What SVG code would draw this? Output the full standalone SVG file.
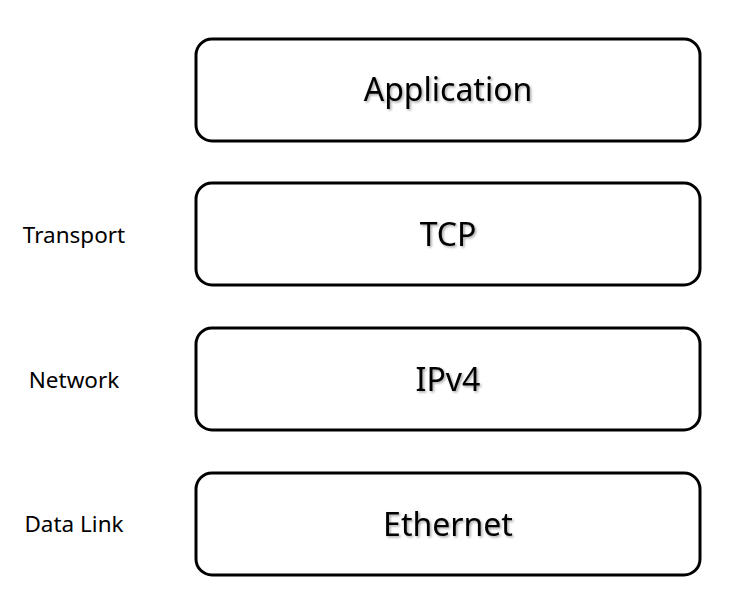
<svg xmlns="http://www.w3.org/2000/svg" width="731" height="613" viewBox="0 0 731 613">
<style>
.box{fill:#fff;stroke:#000;stroke-width:3}
.t{font-family:"Noto Sans","Open Sans",sans-serif;font-size:32px;fill:#000;text-anchor:middle;filter:url(#sh)}
.l{font-family:"Noto Sans","Open Sans",sans-serif;font-size:22.5px;fill:#000;text-anchor:middle}
</style>
<defs>
<filter id="sh" x="-10%" y="-20%" width="130%" height="150%">
<feDropShadow dx="1.5" dy="1.5" stdDeviation="1" flood-color="#000" flood-opacity="0.35"/>
</filter>
</defs>
<rect width="731" height="613" fill="#fff"/>
<g id="application"><rect class="box" x="196" y="39" width="504" height="102" rx="16"/><text class="t" x="448" y="101">Application</text></g>
<g id="tcp"><rect class="box" x="196" y="183" width="504" height="102" rx="16"/><text class="t" x="448" y="246">TCP</text></g>
<g id="ipv4"><rect class="box" x="196" y="328" width="504" height="102" rx="16"/><text class="t" x="448" y="391">IPv4</text></g>
<g id="ethernet"><rect class="box" x="196" y="473" width="504" height="102" rx="16"/><text class="t" x="448" y="536">Ethernet</text></g>
<g id="labels">
<text class="l" x="74" y="243">Transport</text>
<text class="l" x="74" y="388">Network</text>
<text class="l" x="74" y="532">Data Link</text>
</g>
<g id="connectors"></g>
</svg>
